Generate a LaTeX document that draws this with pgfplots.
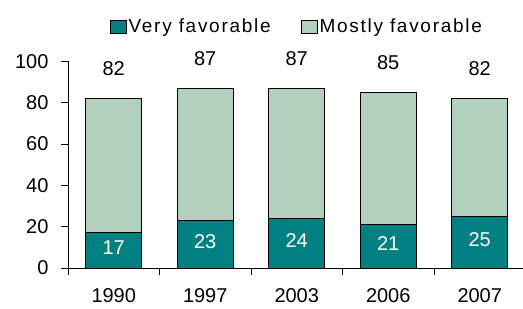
\documentclass[border=0pt]{standalone}
\usepackage{pgfplots}
\pgfplotsset{compat=1.18}
\usepackage{pgfplotstable}
\usepackage{fontspec}
\setmainfont{Liberation Sans}
\newfontfamily\legfont[LetterSpace=9]{Liberation Sans}
\definecolor{vfav}{RGB}{0,128,128}
\definecolor{mfav}{RGB}{179,208,190}
\pgfplotstableread{
x very mostly total
0 17 65 82
1 23 64 87
2 24 63 87
3 21 64 85
4 25 57 82
}\datatable
\begin{document}
\begin{tikzpicture}
\begin{axis}[
  at={(0,0)}, anchor=south west,
  scale only axis, width=457.5bp, height=206.7bp,
  xmin=-0.5, xmax=4.5, ymin=0, ymax=100,
  ybar stacked, bar width=56bp,
  axis x line*=bottom, axis y line*=left,
  axis line style={line width=0.8bp, -},
  xtick={0,...,4}, xticklabels={1990,1997,2003,2006,2007},
  major x tick style={draw=none},
  minor xtick={-0.5,0.5,...,4.5},
  minor tick length=7bp, major tick length=7bp,
  ytick={0,20,...,100},
  tick align=outside,
  tick style={black, line width=0.8bp},
  clip=false,
  tick label style={font=\fontsize{20bp}{24bp}\selectfont},
  /pgf/number format/assume math mode=true,
  xticklabel style={yshift=-10bp}, yticklabel style={xshift=-9bp},
  legend style={at={(0.5,1.17)}, anchor=center, draw=none, fill=none,
    font=\legfont\fontsize{19bp}{21bp}\selectfont, legend columns=2,
    /tikz/every even column/.append style={column sep=28bp}},
  legend image code/.code={\draw[#1, draw=black, line width=1bp] (0bp,-7bp) rectangle (16bp,6bp);},
]
\addplot[fill=vfav, draw=black, line width=1bp,
  nodes near coords,
  every node near coord/.append style={white, font=\fontsize{20bp}{24bp}\selectfont, anchor=center, yshift=3bp}]
  table[x=x, y=very]{\datatable};
\addplot[fill=mfav, draw=black, line width=1bp,
  point meta=explicit, nodes near coords,
  visualization depends on=\thisrow{mostly} \as \segh,
  every node near coord/.append style={black, font=\fontsize{20bp}{24bp}\selectfont, anchor=south, shift={(axis direction cs:0,\segh/2)}, yshift=19bp}]
  table[x=x, y=mostly, meta=total]{\datatable};
\legend{Very favorable, Mostly favorable}
\end{axis}
\pgfresetboundingbox
\path[use as bounding box] (-68bp,-41bp) rectangle (455bp,268bp);
\end{tikzpicture}
\end{document}
